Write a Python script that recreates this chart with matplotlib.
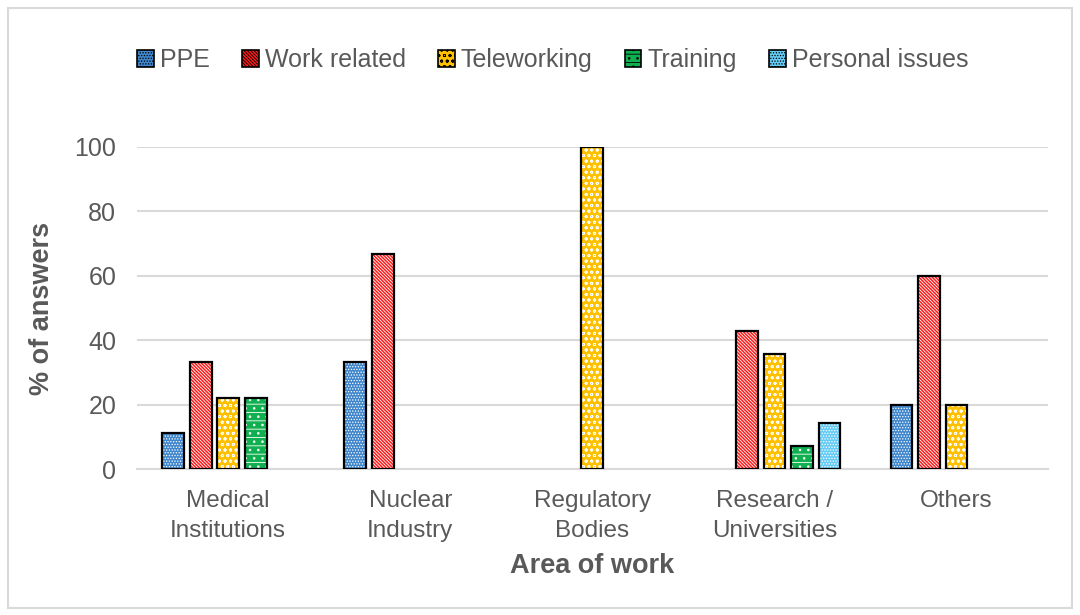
import numpy as np
import matplotlib
matplotlib.use('Agg')
import matplotlib.pyplot as plt
from matplotlib.patches import Rectangle, Patch

plt.rcParams['font.family'] = ['Liberation Sans', 'DejaVu Sans']
plt.rcParams['hatch.linewidth'] = 0.6

categories = ['Medical\nInstitutions', 'Nuclear\nIndustry', 'Regulatory\nBodies',
              'Research /\nUniversities', 'Others']
series = ['PPE', 'Work related', 'Teleworking', 'Training', 'Personal issues']
ppe = [11.1, 33.3, 0, 0, 20.0]
work_related = [33.3, 66.7, 0, 42.9, 60.0]
teleworking = [22.2, 0, 100.0, 35.7, 20.0]
training = [22.2, 0, 0, 7.1, 0]
personal = [0, 0, 0, 14.3, 0]

values = [ppe, work_related, teleworking, training, personal]
colors = ['#3F86CC', '#FF1A1A', '#FFC000', '#10B050', '#66CCF5']
hatches = ['......', '\\\\\\\\\\\\\\\\\\\\', 'ooo', '--..', '......']

text_col = '#595959'

fig = plt.figure(figsize=(10.8, 6.15), dpi=100)
ax = fig.add_axes([0.127, 0.237, 0.843, 0.524])

x = np.arange(len(categories))
pitch = 0.151
width = 0.12
for i, vals in enumerate(values):
    pos = x + (i - 2) * pitch
    vals = np.array(vals, dtype=float)
    mask = vals > 0
    # fill + white hatch, then black outline on top
    ax.bar(pos[mask], vals[mask], width, color=colors[i], edgecolor='white',
           hatch=hatches[i], linewidth=0, zorder=3)
    ax.bar(pos[mask], vals[mask], width, color='none', edgecolor='black',
           linewidth=1.6, zorder=4)

ax.set_xlim(-0.5, len(categories) - 0.5)
ax.set_ylim(0, 100)
ax.set_yticks(np.arange(0, 101, 20))
ax.set_xticks(x)
ax.set_xticklabels(categories, fontsize=17.5, color=text_col, linespacing=1.45)
ax.tick_params(axis='y', labelsize=18, colors=text_col, length=0, pad=15)
ax.tick_params(axis='x', length=0, pad=15)
ax.grid(axis='y', color='#D9D9D9', linewidth=1.5, zorder=0)
for s in ['top', 'right', 'left']:
    ax.spines[s].set_visible(False)
ax.spines['bottom'].set_color('#D9D9D9')
ax.spines['bottom'].set_linewidth(1.5)

ax.set_ylabel('% of answers', fontsize=19.5, fontweight='bold', color=text_col, labelpad=14)
ax.set_xlabel('Area of work', fontsize=19.5, fontweight='bold', color=text_col, labelpad=8)

handles = [Patch(facecolor=colors[i], edgecolor='black', hatch=hatches[i], linewidth=1.2)
           for i in range(len(series))]
leg = fig.legend(handles, series, loc='center', bbox_to_anchor=(0.512, 0.902), ncol=5,
                 frameon=False, fontsize=18, handlelength=0.65, handleheight=0.65,
                 handletextpad=0.25, columnspacing=1.3)
for t in leg.get_texts():
    t.set_color(text_col)

fig.add_artist(Rectangle((0.007, 0.012), 0.986, 0.975, transform=fig.transFigure,
                         fill=False, edgecolor='#D9D9D9', linewidth=1.5))

fig.savefig('out.png', dpi=100)
